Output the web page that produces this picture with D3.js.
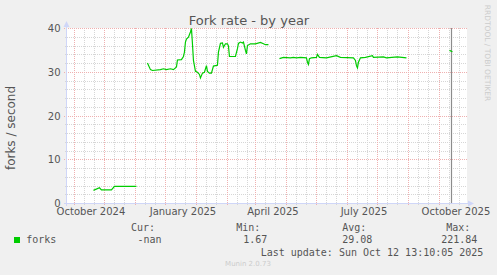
<!DOCTYPE html>
<html>
<head>
<meta charset="utf-8">
<script src="https://cdn.jsdelivr.net/npm/d3@7"></script>
<style>
body { margin: 0; background: #f0f0f0; }
svg { display: block; }
</style>
</head>
<body>
<div id="chart"></div>
<script>
// munin style "by year" graph, forks per second

var title = "Fork rate - by year";
var yLabel = "forks / second";
var yTicks = [0, 10, 20, 30, 40];
var xTickDates = ["2024-10-01", "2025-01-01", "2025-04-01", "2025-07-01", "2025-10-01"];
var xTickLabels = ["October 2024", "January 2025", "April 2025", "July 2025", "October 2025"];

// daily samples, null = no data (gap)
var dates = [
    "2024-10-04", "2024-10-10", "2024-10-12", "2024-10-22", "2024-10-25", "2024-11-16", null,
    "2024-11-27", "2024-11-30", "2024-12-02", "2024-12-10", "2024-12-13", "2024-12-16",
    "2024-12-20", "2024-12-23", "2024-12-25", "2024-12-26", "2024-12-27", "2024-12-31",
    "2025-01-02", "2025-01-03", "2025-01-04", "2025-01-05", "2025-01-07", "2025-01-09",
    "2025-01-10", "2025-01-11", "2025-01-12", "2025-01-14", "2025-01-16", "2025-01-18",
    "2025-01-19", "2025-01-21", "2025-01-23", "2025-01-25", "2025-01-26", "2025-01-28",
    "2025-01-30", "2025-02-01", "2025-02-03", "2025-02-05", "2025-02-06", "2025-02-08",
    "2025-02-10", "2025-02-11", "2025-02-13", "2025-02-15", "2025-02-16", "2025-02-17",
    "2025-02-23", "2025-02-25", "2025-02-26", "2025-02-28", "2025-03-02", "2025-03-03",
    "2025-03-05", "2025-03-06", "2025-03-07", "2025-03-10", "2025-03-15", "2025-03-20",
    "2025-03-23", "2025-03-25", "2025-03-28", null,
    "2025-04-08", "2025-04-12", "2025-04-19", "2025-04-22", "2025-04-25", "2025-04-29",
    "2025-05-05", "2025-05-06", "2025-05-07", "2025-05-08", "2025-05-10", "2025-05-15",
    "2025-05-16", "2025-05-18", "2025-05-25", "2025-06-04", "2025-06-08", "2025-06-21",
    "2025-06-23", "2025-06-24", "2025-06-25", "2025-06-26", "2025-06-28", "2025-07-03",
    "2025-07-10", "2025-07-11", "2025-07-21", "2025-07-24", "2025-08-04", "2025-08-13", null,
    "2025-09-25", "2025-09-28"
];
var forks = [
    3.0, 3.6, 3.1, 3.1, 3.9, 3.9, null,
    32.1, 30.6, 30.4, 30.6, 30.8, 30.6,
    30.8, 30.6, 31.0, 31.2, 32.8, 32.9,
    33.6, 34.6, 36.9, 37.6, 38.0, 39.2,
    40.0, 36.5, 32.7, 30.2, 30.0, 29.5,
    28.7, 29.8, 30.0, 31.5, 30.2, 29.8,
    29.8, 31.4, 31.5, 31.6, 34.6, 36.6,
    36.7, 35.7, 36.5, 36.5, 36.0, 33.6,
    33.6, 35.4, 36.6, 36.9, 36.7, 36.9,
    35.0, 34.2, 36.1, 36.5, 36.5, 36.8,
    36.5, 36.3, 36.3, null,
    33.1, 33.4, 33.3, 33.4, 33.3, 33.4,
    33.3, 32.3, 31.8, 33.1, 33.3, 33.4,
    34.1, 33.4, 33.3, 33.8, 33.4, 33.3,
    32.7, 31.5, 31.0, 32.3, 33.3, 33.4,
    33.8, 33.4, 33.5, 33.3, 33.5, 33.3, null,
    35.0, 34.7
];
var vruleDate = "2025-09-27";

var legendName = "forks";
var legendHeads = ["Cur:", "Min:", "Avg:", "Max:"];
var legendVals = ["-nan", "1.67", "29.08", "221.84"];
var lastUpdate = "Last update: Sun Oct 12 13:10:05 2025";
var footer = "Munin 2.0.73";
var watermark = "RRDTOOL / TOBI OETIKER";

var W = 497, H = 275;
var pLeft = 67, pRight = 467, pTop = 28, pBottom = 203;
var parse = d3.utcParse("%Y-%m-%d");
var endTime = new Date(Date.UTC(2025, 9, 12, 13, 10, 5));
var startTime = d3.utcDay.offset(endTime, -400);

var x = d3.scaleUtc().domain([startTime, endTime]).range([pLeft, pRight]);
var y = d3.scaleLinear().domain([0, 40]).range([pBottom + 0.5, pTop + 0.5]);
var px = v => Math.round(v - 0.5) + 0.5;

var svg = d3.select("#chart").append("svg")
            .attr("width", W)
            .attr("height", H)
            .style("font-family", "'DejaVu Sans', sans-serif");

svg.append("rect").attr("width", W).attr("height", H).attr("fill", "#f0f0f0");
svg.append("rect")
   .attr("x", pLeft).attr("y", pTop)
   .attr("width", pRight - pLeft).attr("height", pBottom - pTop)
   .attr("fill", "#ffffff");

// grid
var gGrid = svg.append("g").attr("shape-rendering", "crispEdges").attr("stroke-dasharray", "1,1");
var minorY = d3.range(0, 41, 2).filter(v => v % 10 != 0);
var majorY = yTicks;

gGrid.selectAll(".hmin").data(minorY).enter().append("line")
     .attr("x1", pLeft - 2).attr("x2", pRight)
     .attr("y1", d => px(y(d))).attr("y2", d => px(y(d)))
     .attr("stroke", "#d6d6d6");

var reds = [], grays = [];
d3.utcMonth.range(new Date(Date.UTC(2024, 7, 1)), new Date(Date.UTC(2025, 10, 1))).forEach(m => {
    var r = d3.utcHour.offset(m, 14 * 24 + 12);
    reds.push(r);
    grays.push(d3.utcDay.offset(r, 10));
    grays.push(d3.utcDay.offset(r, 20));
});
reds = reds.filter(d => d > startTime && d < endTime);
grays = grays.filter(d => d > startTime && d < endTime);

gGrid.selectAll(".vmin").data(grays).enter().append("line")
     .attr("x1", d => px(x(d))).attr("x2", d => px(x(d)))
     .attr("y1", pTop).attr("y2", pBottom + 2)
     .attr("stroke", "#d6d6d6");

gGrid.selectAll(".hmaj").data(majorY).enter().append("line")
     .attr("x1", pLeft - 3).attr("x2", pRight)
     .attr("y1", d => px(y(d))).attr("y2", d => px(y(d)))
     .attr("stroke", "#efb0b0");

gGrid.selectAll(".vmaj").data(reds).enter().append("line")
     .attr("x1", d => px(x(d))).attr("x2", d => px(x(d)))
     .attr("y1", pTop).attr("y2", pBottom + 3)
     .attr("stroke", "#efb0b0");

// axes lines + arrows
var axisCol = "#cfd6f8";
svg.append("line").attr("x1", pLeft - 3).attr("x2", pRight + 3)
   .attr("y1", pBottom + 0.5).attr("y2", pBottom + 0.5)
   .attr("stroke", axisCol).attr("shape-rendering", "crispEdges");
svg.append("line").attr("x1", pLeft - 0.5).attr("x2", pLeft - 0.5)
   .attr("y1", pBottom + 3).attr("y2", pTop - 3)
   .attr("stroke", axisCol).attr("shape-rendering", "crispEdges");
svg.append("path").attr("d", `M${pRight + 1},${pBottom - 2.5}L${pRight + 7},${pBottom + 0.5}L${pRight + 1},${pBottom + 3.5}Z`)
   .attr("fill", axisCol);
svg.append("path").attr("d", `M${pLeft - 3.5},${pTop - 1}L${pLeft - 0.5},${pTop - 7}L${pLeft + 2.5},${pTop - 1}Z`)
   .attr("fill", axisCol);

// tick labels
var gy = svg.append("g")
            .attr("transform", `translate(${pLeft},0)`)
            .call(d3.axisLeft(y).tickValues(yTicks).tickSize(0).tickPadding(6.5));
gy.select(".domain").remove();
gy.selectAll("text").attr("fill", "#555").style("font-size", "10px").style("font-family", "'DejaVu Sans'");

var gx = svg.append("g")
            .attr("transform", `translate(0,${pBottom})`)
            .call(d3.axisBottom(x).tickValues(xTickDates.map(parse)).tickSize(0).tickPadding(5)
                    .tickFormat((d, i) => xTickLabels[i]));
gx.select(".domain").remove();
gx.selectAll("text").attr("fill", "#555").style("font-size", "10px").style("font-family", "'DejaVu Sans'");

// vrule
svg.append("line")
   .attr("x1", px(x(parse(vruleDate)))).attr("x2", px(x(parse(vruleDate))))
   .attr("y1", pTop).attr("y2", pBottom)
   .attr("stroke", "#8c8c8c").attr("stroke-width", 1.2);

// data line
svg.append("clipPath").attr("id", "clip")
   .append("rect").attr("x", pLeft).attr("y", pTop - 1).attr("width", pRight - pLeft).attr("height", pBottom - pTop + 1);

var points = dates.map((d, i) => ({ t: d ? parse(d) : null, v: forks[i] }));
var line = d3.line()
             .defined(d => d.v != null)
             .x(d => x(d.t))
             .y(d => y(d.v));
svg.append("path")
   .datum(points)
   .attr("clip-path", "url(#clip)")
   .attr("fill", "none")
   .attr("stroke", "#00cc00")
   .attr("stroke-width", 1.2)
   .attr("d", line);

// title and labels
svg.append("text").attr("x", 249).attr("y", 24.5).attr("text-anchor", "middle")
   .attr("fill", "#555").style("font-size", "13px").text(title);

svg.append("text").attr("transform", "translate(15,128) rotate(-90)").attr("text-anchor", "middle")
   .attr("fill", "#555").style("font-size", "12px").text(yLabel);

svg.append("text").attr("transform", "translate(484.5,53) rotate(90)").attr("text-anchor", "middle")
   .attr("fill", "#cccccc").style("font-size", "7.5px").text(watermark);

// legend
var mono = "'DejaVu Sans Mono', monospace";
var headX = [131, 236.3, 342.3, 446.3];
var valEnd = [161.6, 267.3, 372.3, 477.3];
var gLeg = svg.append("g").attr("fill", "#555").style("font-family", mono).style("font-size", "10px");

gLeg.selectAll(".head").data(legendHeads).enter().append("text")
    .attr("x", (d, i) => headX[i]).attr("y", 230.5).text(d => d);
gLeg.selectAll(".val").data(legendVals).enter().append("text")
    .attr("x", (d, i) => valEnd[i]).attr("y", 243).attr("text-anchor", "end").text(d => d);

svg.append("rect").attr("x", 14).attr("y", 237).attr("width", 6).attr("height", 6).attr("fill", "#00cc00");
gLeg.append("text").attr("x", 26.2).attr("y", 243).text(legendName);
gLeg.append("text").attr("x", 483.4).attr("y", 255.5).attr("text-anchor", "end").text(lastUpdate);

svg.append("text").attr("x", 248).attr("y", 266).attr("text-anchor", "middle")
   .attr("fill", "#cccccc").style("font-size", "7px").text(footer);
</script>
</body>
</html>
